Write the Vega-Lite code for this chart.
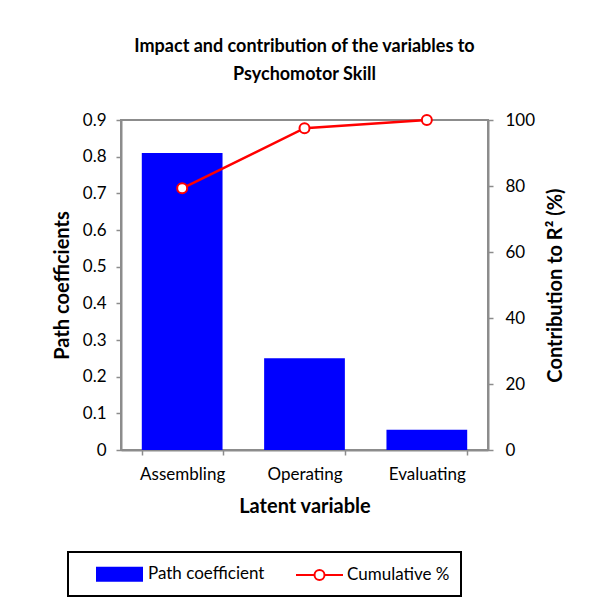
{
  "$schema": "https://vega.github.io/schema/vega-lite/v6.json",
  "width": 367,
  "height": 330,
  "autosize": {"type": "none"},
  "padding": {"left": 121, "top": 120, "right": 111, "bottom": 154},
  "background": "white",
  "title": {
    "text": ["Impact and contribution of the variables to", "Psychomotor Skill"],
    "font": "Lato",
    "fontSize": 18,
    "fontWeight": "bold",
    "color": "black",
    "lineHeight": 28,
    "offset": 27,
    "anchor": "middle"
  },
  "data": {
    "values": [
      {"variable": "Assembling", "path": 0.81, "cum": 79.3},
      {"variable": "Operating", "path": 0.25, "cum": 97.5},
      {"variable": "Evaluating", "path": 0.055, "cum": 100}
    ]
  },
  "config": {
    "view": {"stroke": "#8c8c8c", "strokeWidth": 2},
    "axis": {
      "labelFont": "Lato",
      "labelFontSize": 17,
      "labelColor": "black",
      "titleFont": "Lato",
      "titleFontSize": 20,
      "titleFontWeight": "bold",
      "titleColor": "black",
      "domainColor": "#8c8c8c",
      "domainWidth": 2,
      "tickColor": "#8c8c8c",
      "tickWidth": 1.5,
      "tickSize": 5,
      "grid": false
    },
    "legend": {
      "labelFont": "Lato",
      "labelFontSize": 17,
      "labelColor": "black",
      "titleFont": "Lato",
      "titleFontSize": 17
    }
  },
  "encoding": {
    "x": {
      "field": "variable",
      "type": "nominal",
      "sort": null,
      "scale": {"paddingInner": 0.34, "paddingOuter": 0.17},
      "axis": {
        "title": "Latent variable",
        "labelAngle": 0,
        "labelPadding": 11,
        "titlePadding": 14,
        "tickBand": "extent"
      }
    }
  },
  "layer": [
    {
      "mark": {"type": "bar", "color": "#0000ff"},
      "encoding": {
        "y": {
          "field": "path",
          "type": "quantitative",
          "scale": {"domain": [0, 0.9], "nice": false},
          "axis": {
            "title": "Path coefficients",
            "values": [0, 0.1, 0.2, 0.3, 0.4, 0.5, 0.6, 0.7, 0.8, 0.9],
            "format": ".1~f",
            "labelPadding": 10,
            "titlePadding": 10
          }
        },
        "color": {
          "datum": "Path coefficient",
          "scale": {"domain": ["Path coefficient", "Cumulative %"], "range": ["#0000ff", "#ff0000"]},
          "legend": {
            "title": "\u00a0",
            "titleOrient": "left",
            "titlePadding": 17,
            "orient": "none",
            "direction": "horizontal",
            "legendX": -53,
            "legendY": 432,
            "padding": 11,
            "strokeColor": "black",
            "symbolSize": 400,
            "symbolStrokeWidth": 2,
            "labelOffset": 30,
            "columnPadding": 27,
            "labelExpr": "datum.label === 'Cumulative %' ? datum.label + '\u00a0\u00a0\u00a0\u00a0\u00a0\u00a0\u00a0' : datum.label",
            "encode": {
              "legend": {"update": {"strokeWidth": {"value": 2}}},
              "symbols": {
                "update": {
                  "shape": {"signal": "datum.value === 'Path coefficient' ? 'M-1,-0.65H3.5V0.65H-1Z' : 'M-1,0H0.85M1.85,0H3.7M0.85,0A0.5,0.5 0 1,1 1.85,0A0.5,0.5 0 1,1 0.85,0ZM0.85,0A0.5,0.5 0 1,0 1.85,0A0.5,0.5 0 1,0 0.85,0Z'"},
                  "stroke": {"signal": "datum.value === 'Path coefficient' ? '#0000ff' : '#ff0000'"},
                  "opacity": {"value": 1},
                  "fillOpacity": {"value": 1},
                  "strokeOpacity": {"value": 1}
                }
              }
            }
          }
        }
      }
    },
    {
      "mark": {
        "type": "line",
        "strokeWidth": 2.5,
        "point": {"filled": true, "fill": "white", "stroke": "#ff0000", "strokeWidth": 2, "size": 100}
      },
      "encoding": {
        "y": {
          "field": "cum",
          "type": "quantitative",
          "scale": {"domain": [0, 100], "nice": false},
          "axis": {
            "orient": "right",
            "title": "Contribution to R² (%)",
            "titleAngle": 270,
            "titleBaseline": "top",
            "values": [0, 20, 40, 60, 80, 100],
            "labelPadding": 12,
            "titlePadding": 11
          }
        },
        "color": {"datum": "Cumulative %"}
      }
    }
  ],
  "resolve": {"scale": {"y": "independent"}}
}
